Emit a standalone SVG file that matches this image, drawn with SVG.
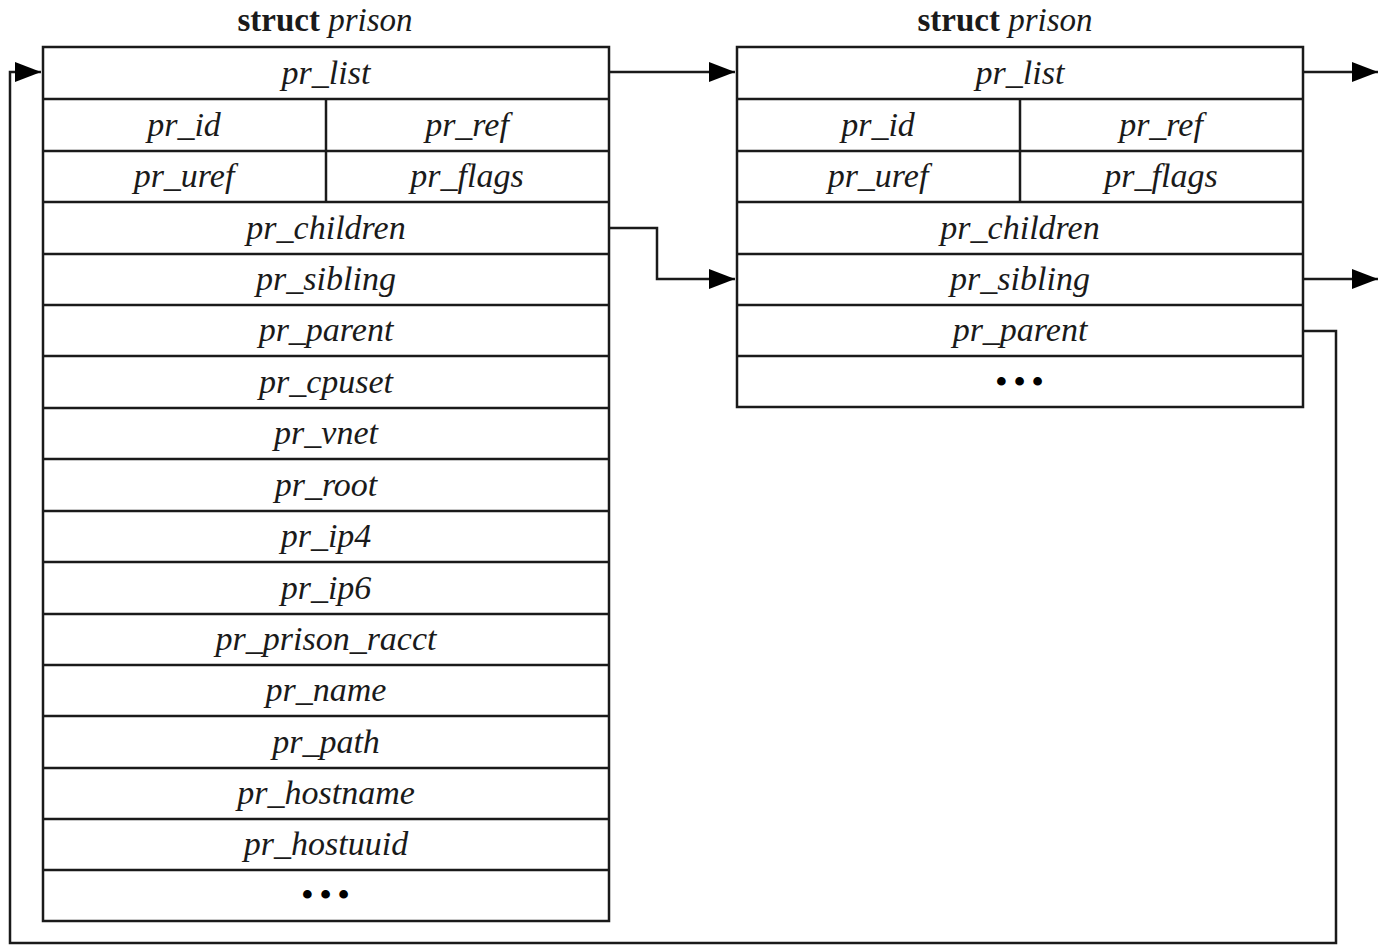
<svg xmlns="http://www.w3.org/2000/svg" width="1386" height="946" viewBox="0 0 1386 946">
<defs>
<style>
.cell{fill:#fff;stroke:#1a1a1a;stroke-width:2.5}
.ln{fill:none;stroke:#1a1a1a;stroke-width:2.5}
.t{font-family:"Liberation Serif","Times New Roman",serif;font-style:italic;font-size:34px;fill:#1a1a1a;text-anchor:middle}
.h{font-family:"Liberation Serif","Times New Roman",serif;font-size:33px;fill:#1a1a1a;text-anchor:middle}
.d{font-family:"Liberation Serif","Times New Roman",serif;font-weight:bold;font-size:32px;fill:#000;text-anchor:middle;letter-spacing:7px}
</style>
<marker id="ab" viewBox="0 0 26 20" refX="26" refY="10" markerWidth="26" markerHeight="20" markerUnits="userSpaceOnUse" orient="auto">
<path d="M0,0 L26,10 L0,20 Z" fill="#000"/>
</marker>
</defs>
<rect width="1386" height="946" fill="#fff"/>

<g id="prison1">
<text class="h" x="325" y="31"><tspan font-weight="bold">struct</tspan> <tspan font-style="italic">prison</tspan></text>
<rect class="cell" x="43" y="47" width="566" height="874"/>
<g class="ln">
<path d="M43,99H609M43,151H609M43,202H609M43,254H609M43,305H609M43,356H609M43,408H609M43,459H609M43,511H609M43,562H609M43,614H609M43,665H609M43,716H609M43,768H609M43,819H609M43,870H609"/>
<path d="M326,99V202"/>
</g>
<text class="t" x="326" y="84">pr_list</text>
<text class="t" x="184" y="136">pr_id</text>
<text class="t" x="467" y="136">pr_ref</text>
<text class="t" x="184" y="187">pr_uref</text>
<text class="t" x="467" y="187">pr_flags</text>
<text class="t" x="326" y="239">pr_children</text>
<text class="t" x="326" y="290">pr_sibling</text>
<text class="t" x="326" y="341">pr_parent</text>
<text class="t" x="326" y="393">pr_cpuset</text>
<text class="t" x="326" y="444">pr_vnet</text>
<text class="t" x="326" y="496">pr_root</text>
<text class="t" x="326" y="547">pr_ip4</text>
<text class="t" x="326" y="599">pr_ip6</text>
<text class="t" x="326" y="650">pr_prison_racct</text>
<text class="t" x="326" y="701">pr_name</text>
<text class="t" x="326" y="753">pr_path</text>
<text class="t" x="326" y="804">pr_hostname</text>
<text class="t" x="326" y="855">pr_hostuuid</text>
<text class="d" x="329" y="905">•••</text>
</g>

<g id="prison2">
<text class="h" x="1005" y="31"><tspan font-weight="bold">struct</tspan> <tspan font-style="italic">prison</tspan></text>
<rect class="cell" x="737" y="47" width="566" height="360"/>
<g class="ln">
<path d="M737,99H1303M737,151H1303M737,202H1303M737,254H1303M737,305H1303M737,356H1303"/>
<path d="M1020,99V202"/>
</g>
<text class="t" x="1020" y="84">pr_list</text>
<text class="t" x="878" y="136">pr_id</text>
<text class="t" x="1161" y="136">pr_ref</text>
<text class="t" x="878" y="187">pr_uref</text>
<text class="t" x="1161" y="187">pr_flags</text>
<text class="t" x="1020" y="239">pr_children</text>
<text class="t" x="1020" y="290">pr_sibling</text>
<text class="t" x="1020" y="341">pr_parent</text>
<text class="d" x="1023" y="392">•••</text>
</g>

<g id="connectors" class="ln">
<path d="M609,72H735" marker-end="url(#ab)"/>
<path d="M609,228H657V279H735" marker-end="url(#ab)"/>
<path d="M1303,72H1378" marker-end="url(#ab)"/>
<path d="M1303,279H1378" marker-end="url(#ab)"/>
<path d="M1303,331H1336V943H10V72H41" marker-end="url(#ab)"/>
</g>
</svg>
